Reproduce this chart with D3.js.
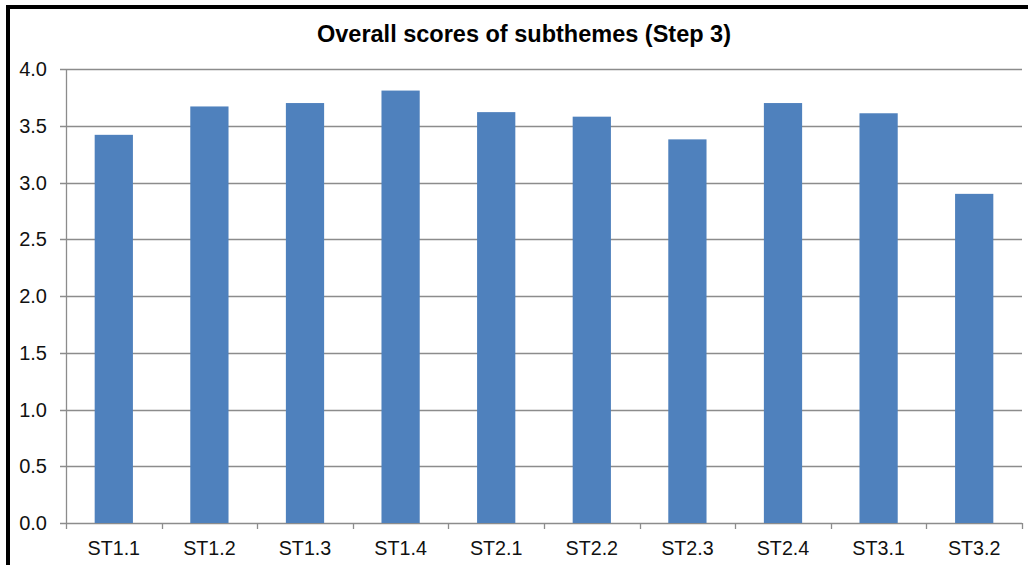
<!DOCTYPE html>
<html>
<head>
<meta charset="utf-8">
<script src="https://cdn.jsdelivr.net/npm/d3@7"></script>
<style>
  html, body { margin: 0; padding: 0; background: #fff; }
  svg { display: block; }
  text { font-family: "Liberation Sans", Arial, sans-serif; }
</style>
</head>
<body>
<svg id="chart" width="1028" height="565"></svg>
<script>
const categories = ["ST1.1","ST1.2","ST1.3","ST1.4","ST2.1","ST2.2","ST2.3","ST2.4","ST3.1","ST3.2"];
const scores = [3.42, 3.67, 3.70, 3.81, 3.62, 3.58, 3.38, 3.70, 3.61, 2.90];
const yTicks = [0, 0.5, 1.0, 1.5, 2.0, 2.5, 3.0, 3.5, 4.0];
const title = "Overall scores of subthemes (Step 3)";

(function () {
const svg = d3.select("#chart");
const W = 1028, H = 565;
const mLeft = 66, mRight = 1022, mTop = 69, mBottom = 523;

svg.append("rect").attr("width", W).attr("height", H).attr("fill", "#fff");
// outer frame
svg.append("rect").attr("x", 8).attr("y", 7).attr("width", W + 20).attr("height", H + 20)
  .attr("fill", "none").attr("stroke", "#000").attr("stroke-width", 4);

const x = d3.scaleBand().domain(categories).range([mLeft, mRight]).paddingInner(0.6).paddingOuter(0.3);
const y = d3.scaleLinear().domain([0, 4]).range([mBottom, mTop]);

// gridlines
svg.append("g").selectAll("line").data(yTicks).join("line")
  .attr("x1", mLeft - 6).attr("x2", mRight)
  .attr("y1", d => Math.round(y(d)) + 0.5).attr("y2", d => Math.round(y(d)) + 0.5)
  .attr("stroke", "#8c8c8c").attr("stroke-width", 1.3);

// y axis line
svg.append("line").attr("x1", mLeft + 0.5).attr("x2", mLeft + 0.5).attr("y1", mTop).attr("y2", mBottom)
  .attr("stroke", "#8c8c8c").attr("stroke-width", 1.3);

// y labels
svg.append("g").selectAll("text").data(yTicks).join("text")
  .attr("x", 47).attr("y", d => y(d) + 7)
  .attr("text-anchor", "end").attr("font-size", 20).attr("fill", "#111")
  .text(d => d.toFixed(1));

// x tick marks at category boundaries
const bw = (mRight - mLeft) / categories.length;
const xb = d3.range(categories.length + 1).map(i => mLeft + i * bw);
svg.append("g").selectAll("line").data(xb).join("line")
  .attr("x1", d => Math.round(d) + 0.5).attr("x2", d => Math.round(d) + 0.5)
  .attr("y1", mBottom).attr("y2", mBottom + 6)
  .attr("stroke", "#8c8c8c").attr("stroke-width", 1.3);

// bars
svg.append("g").selectAll("rect").data(categories).join("rect")
  .attr("x", d => x(d)).attr("width", x.bandwidth())
  .attr("y", (d, i) => y(scores[i])).attr("height", (d, i) => mBottom - y(scores[i]))
  .attr("fill", "#4f81bd");

// x labels
svg.append("g").selectAll("text").data(categories).join("text")
  .attr("x", d => x(d) + x.bandwidth() / 2).attr("y", 555)
  .attr("text-anchor", "middle").attr("font-size", 19.7).attr("fill", "#111")
  .text(d => d);

// title
svg.append("text").attr("x", 524).attr("y", 42).attr("text-anchor", "middle")
  .attr("font-size", 23.5).attr("font-weight", "bold").attr("fill", "#000").text(title);
})();
</script>
</body>
</html>
